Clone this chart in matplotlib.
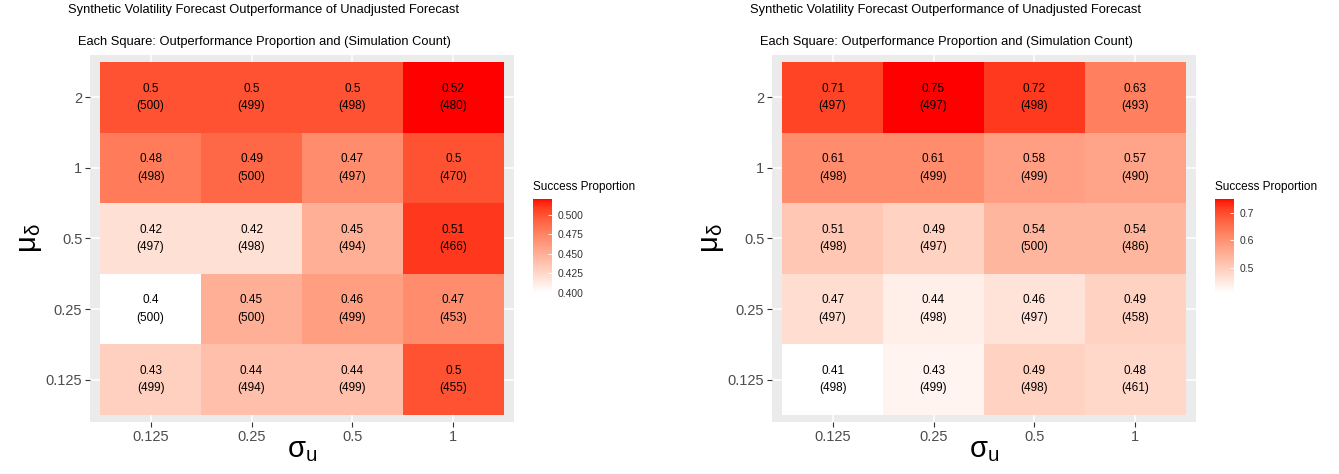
import numpy as np
import matplotlib
matplotlib.use("Agg")
import matplotlib.pyplot as plt
from matplotlib.colors import ListedColormap

plt.rcParams['font.family'] = ['Liberation Sans', 'DejaVu Sans']
plt.rcParams['mathtext.fontset'] = 'custom'
plt.rcParams['mathtext.rm'] = 'Liberation Sans'
plt.rcParams['mathtext.it'] = 'Liberation Sans'

# data, rows listed top to bottom (mu_delta = 2 ... 0.125)
sigma_u = ["0.125", "0.25", "0.5", "1"]
mu_delta = ["2", "1", "0.5", "0.25", "0.125"]

prop_left = [[0.50, 0.50, 0.50, 0.52],
             [0.48, 0.49, 0.47, 0.50],
             [0.42, 0.42, 0.45, 0.51],
             [0.40, 0.45, 0.46, 0.47],
             [0.43, 0.44, 0.44, 0.50]]
count_left = [[500, 499, 498, 480],
              [498, 500, 497, 470],
              [497, 498, 494, 466],
              [500, 500, 499, 453],
              [499, 494, 499, 455]]

prop_right = [[0.71, 0.75, 0.72, 0.63],
              [0.61, 0.61, 0.58, 0.57],
              [0.51, 0.49, 0.54, 0.54],
              [0.47, 0.44, 0.46, 0.49],
              [0.41, 0.43, 0.49, 0.48]]
count_right = [[497, 497, 498, 493],
               [498, 499, 499, 490],
               [498, 497, 500, 486],
               [497, 498, 497, 458],
               [498, 499, 498, 461]]

legend_ticks_left = [0.400, 0.425, 0.450, 0.475, 0.500]
legend_ticks_right = [0.5, 0.6, 0.7]

title = "Synthetic Volatility Forecast Outperformance of Unadjusted Forecast"
subtitle = "Each Square: Outperformance Proportion and (Simulation Count)"


# white -> red ramp interpolated in CIELAB, like ggplot's scale_fill_gradient
def srgb_to_lab(rgb):
    c = np.asarray(rgb, float)
    lin = np.where(c <= 0.04045, c / 12.92, ((c + 0.055) / 1.055) ** 2.4)
    M = np.array([[0.4124, 0.3576, 0.1805],
                  [0.2126, 0.7152, 0.0722],
                  [0.0193, 0.1192, 0.9505]])
    xyz = M @ lin / np.array([0.95047, 1.0, 1.08883])
    f = np.where(xyz > (6 / 29) ** 3, np.cbrt(xyz), xyz / (3 * (6 / 29) ** 2) + 4 / 29)
    return np.array([116 * f[1] - 16, 500 * (f[0] - f[1]), 200 * (f[1] - f[2])])


def lab_to_srgb(lab):
    L, a, b = lab
    fy = (L + 16) / 116
    fx = fy + a / 500
    fz = fy - b / 200
    f = np.array([fx, fy, fz])
    xyz = np.where(f > 6 / 29, f ** 3, 3 * (6 / 29) ** 2 * (f - 4 / 29))
    xyz = xyz * np.array([0.95047, 1.0, 1.08883])
    M = np.array([[3.2406, -1.5372, -0.4986],
                  [-0.9689, 1.8758, 0.0415],
                  [0.0557, -0.2040, 1.0570]])
    lin = np.clip(M @ xyz, 0, 1)
    c = np.where(lin <= 0.0031308, 12.92 * lin, 1.055 * lin ** (1 / 2.4) - 0.055)
    return np.clip(c, 0, 1)


lab_lo = srgb_to_lab([1, 1, 1])
lab_hi = srgb_to_lab([1, 0, 0])
ramp = [lab_to_srgb(lab_lo + t * (lab_hi - lab_lo)) for t in np.linspace(0, 1, 256)]
cmap = ListedColormap(ramp)

W, H = 1339, 474
fig = plt.figure(figsize=(W / 100, H / 100), dpi=100)


def box(x0, y0, x1, y1):
    return [x0 / W, 1 - y1 / H, (x1 - x0) / W, (y1 - y0) / H]


def heat(px, prop, count, vmin, vmax, cb_x, cb_ticks, cb_fmt):
    ax = fig.add_axes(box(px, 55, px + 424, 422))
    ax.set_facecolor("#EBEBEB")
    z = np.array(prop)[::-1]
    n = np.array(count)[::-1]
    ax.set_xlim(-0.6, 3.6)
    ax.set_ylim(-0.6, 4.6)
    for i in range(4):
        ax.axvline(i, color="white", lw=1.1, zorder=0)
    for j in range(5):
        ax.axhline(j, color="white", lw=1.1, zorder=0)
    im = ax.pcolormesh(np.arange(-0.5, 4), np.arange(-0.5, 5), z, cmap=cmap,
                       vmin=vmin, vmax=vmax, zorder=1)
    for j in range(5):
        for i in range(4):
            ax.text(i, j, "%g\n(%d)" % (z[j, i], n[j, i]), ha="center", va="center",
                    fontsize=8.5, linespacing=1.6, color="black", zorder=2)
    ax.set_xticks(range(4))
    ax.set_xticklabels(sigma_u)
    ax.set_yticks(range(5))
    ax.set_yticklabels(mu_delta[::-1])
    ax.tick_params(length=3.5, width=0.8, color="#333333", labelcolor="#4D4D4D",
                   labelsize=10.5, pad=2)
    for s in ax.spines.values():
        s.set_visible(False)

    fig.text((px + 174) / W, 1 - 10 / H, title, ha="center", va="center", fontsize=9.25)
    fig.text((px + 174) / W, 1 - 42 / H, subtitle, ha="center", va="center", fontsize=9.25)
    fig.text((px + 212) / W, 1 - 450 / H, r"$\mathrm{\sigma_u}$", ha="center", va="center",
             fontsize=21)
    fig.text((px - 60) / W, 1 - 238 / H, r"$\mathrm{\mu_\delta}$", ha="center", va="center",
             fontsize=21, rotation=90)

    cax = fig.add_axes(box(cb_x, 199, cb_x + 19, 293))
    cb = fig.colorbar(im, cax=cax, ticks=cb_ticks)
    cb.outline.set_visible(False)
    cb.ax.set_yticklabels([cb_fmt % t for t in cb_ticks])
    cb.ax.tick_params(length=3, width=0.6, color="white", direction="in",
                      labelsize=7.5, labelcolor="#333333", pad=4)
    fig.text(cb_x / W, 1 - 187 / H, "Success Proportion", ha="left", va="center", fontsize=8.5)


heat(90, prop_left, count_left, 0.40, 0.52, 533, legend_ticks_left, "%.3f")
heat(772, prop_right, count_right, 0.41, 0.75, 1215, legend_ticks_right, "%.1f")

plt.savefig("out.png", dpi=100)
